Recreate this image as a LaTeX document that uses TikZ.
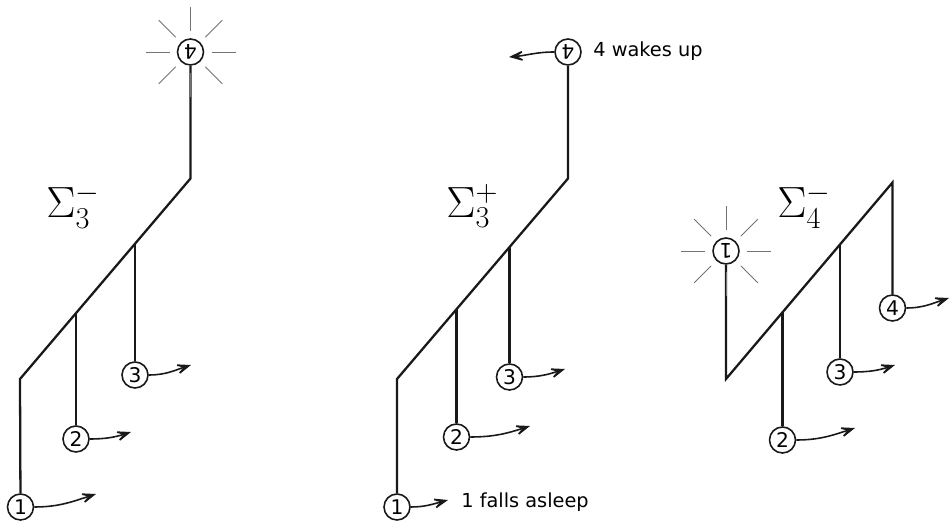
\documentclass[tikz,border=0pt]{standalone}
\usepackage{fontspec}
\setsansfont{DejaVu Sans}
\usetikzlibrary{arrows.meta, calc}

\begin{document}
\begin{tikzpicture}[
    x=0.02cm, y=-0.02cm,
    wire/.style={draw=black!90, line width=1.3pt},
    ball/.style={circle, draw=black!90, fill=white, line width=0.9pt, minimum size=0.52cm, inner sep=0pt, font=\sffamily\fontsize{11.5}{12}\selectfont},
    ray/.style={draw=black!55, line width=0.55pt},
    move/.style={-{Stealth[length=12pt, width=9pt, inset=7.5pt]}, line width=0.9pt, black!90},
    note/.style={anchor=west, inner sep=0pt, font=\sffamily\fontsize{11}{13}\selectfont},
    sigma/.style={anchor=west, inner sep=0pt, font=\fontsize{24}{28}\selectfont},
]
    \useasboundingbox (0,0) rectangle (951,523);

    % left: Sigma_3^-
    \coordinate (a1) at (20,379);
    \coordinate (b1) at (190.5,178.5);
    \coordinate (k12) at (76,313);
    \coordinate (k13) at (135,244);
    \node[ball] (p1n1) at (20.5,507) {1};
    \node[ball] (p1n2) at (76,439) {2};
    \node[ball] (p1n3) at (135,375) {3};
    \node[ball, rotate=180] (p1n4) at (190.5,52) {4};
    \node[sigma] (s1) at (46,206) {$\Sigma_3^-$};
    \draw[wire] (p1n1) -- (a1) -- (b1) -- (p1n4);
    \draw[wire] (p1n2) -- (k12);
    \draw[wire] (p1n3) -- (k13);
    \foreach \a in {0,45,...,315}
        \draw[ray] ($(p1n4)+(\a:21)$) -- ($(p1n4)+(\a:45)$);
    \coordinate (t11) at (96,494);
    \coordinate (t12) at (131,432);
    \coordinate (t13) at (191,365);
    \draw[move] (p1n1.east) to[out=0, in=198] (t11);
    \draw[move] (p1n2.east) to[out=0, in=198] (t12);
    \draw[move] (p1n3.east) to[out=0, in=198] (t13);

    % middle: Sigma_3^+
    \coordinate (a2) at (397,379);
    \coordinate (b2) at (568,178.5);
    \coordinate (k22) at (456.5,309);
    \coordinate (k23) at (509.5,247);
    \node[ball] (p2n1) at (397,507) {1};
    \node[ball] (p2n2) at (456.5,437) {2};
    \node[ball] (p2n3) at (509.5,377) {3};
    \node[ball, rotate=180] (p2n4) at (568,52) {4};
    \node[sigma] (s2) at (446,206) {$\Sigma_3^+$};
    \draw[wire] (p2n1) -- (a2) -- (b2) -- (p2n4);
    \draw[wire] (p2n2) -- (k22);
    \draw[wire] (p2n3) -- (k23);
    \coordinate (t21) at (448,500);
    \coordinate (t22) at (530,426);
    \coordinate (t23) at (565,369);
    \coordinate (t24) at (509,57);
    \draw[move] (p2n1.east) to[out=0, in=195] (t21);
    \draw[move] (p2n2.east) to[out=0, in=198] (t22);
    \draw[move] (p2n3.east) to[out=0, in=198] (t23);
    \draw[move] (p2n4.east) to[out=180, in=5] (t24);
    \node[note] (w4) at (593,51) {4 wakes up};
    \node[note] (w1) at (461,502) {1 falls asleep};

    % right: Sigma_4^-
    \coordinate (a3) at (726,379);
    \coordinate (b3) at (892.5,182.5);
    \coordinate (k32) at (782.5,312);
    \coordinate (k33) at (840,244.5);
    \node[ball, rotate=180] (p3n1) at (726,251) {1};
    \node[ball] (p3n2) at (782.5,440) {2};
    \node[ball] (p3n3) at (840,372) {3};
    \node[ball] (p3n4) at (892.5,308) {4};
    \node[sigma] (s3) at (777,206) {$\Sigma_4^-$};
    \draw[wire] (p3n1) -- (a3) -- (b3) -- (p3n4);
    \draw[wire] (p3n2) -- (k32);
    \draw[wire] (p3n3) -- (k33);
    \foreach \a in {0,45,...,315}
        \draw[ray] ($(p3n1)+(\a:21)$) -- ($(p3n1)+(\a:45)$);
    \coordinate (t32) at (855,428);
    \coordinate (t33) at (895,365);
    \coordinate (t34) at (949,298);
    \draw[move] (p3n2.east) to[out=0, in=198] (t32);
    \draw[move] (p3n3.east) to[out=0, in=198] (t33);
    \draw[move] (p3n4.east) to[out=0, in=198] (t34);
\end{tikzpicture}
\end{document}
